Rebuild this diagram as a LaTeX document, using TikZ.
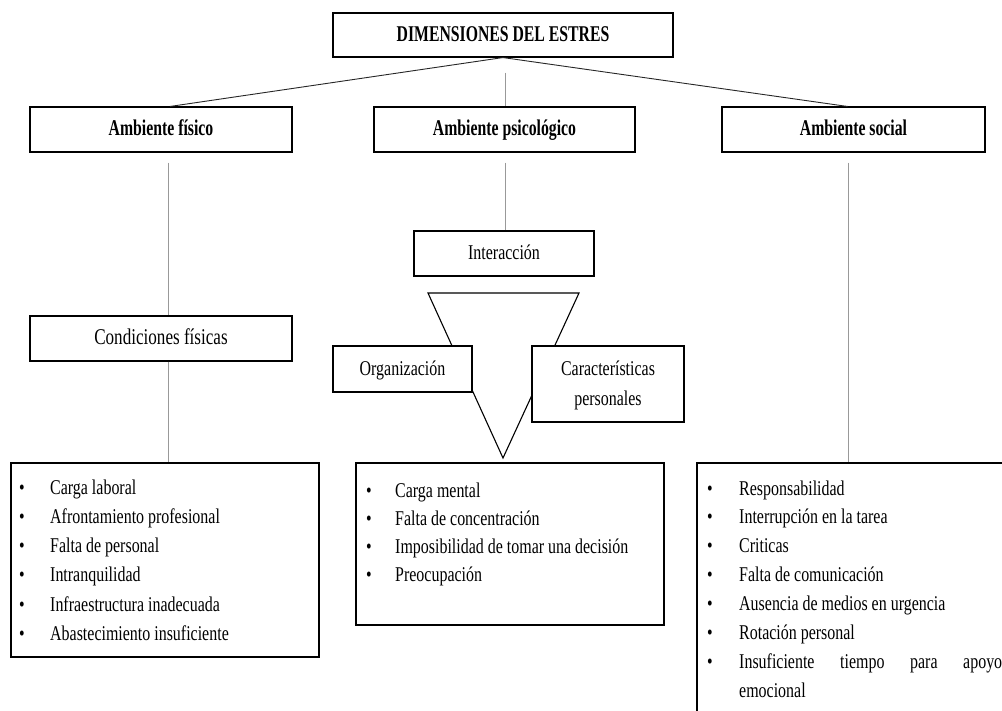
\documentclass[tikz,border=0pt]{standalone}
\usepackage{fontspec}
\setmainfont{Liberation Serif}[FakeStretch=0.76]
\newfontfamily\hdfont{Liberation Serif}[FakeStretch=0.70]
\usetikzlibrary{calc}
\begin{document}
\begin{tikzpicture}[x=1pt,y=-1pt,
  box/.style={draw, line width=1.1pt, fill=white, inner sep=0pt, align=center},
  hd/.style={font=\hdfont\bfseries\fontsize{22.5}{26}\selectfont, text height=16pt, text depth=4pt},
  bd/.style={font=\fontsize{21}{30}\selectfont},
  ctr/.style={text height=15.5pt, text depth=3.5pt},
  conn/.style={draw=black!85, line width=0.9pt},
  gconn/.style={draw=black!40, line width=1pt},
  item/.style={bd, anchor=base west, inner sep=0pt},
  bul/.style={bd, anchor=base, inner sep=0pt}]
\useasboundingbox (0,0) rectangle (1002,710);
\clip (0,0) rectangle (1002,710);

% top level
\node[box, hd, minimum width=340pt, minimum height=44pt] (top) at (503,35) {DIMENSIONES DEL ESTRES};
\node[box, hd, minimum width=262pt, minimum height=45pt] (fis) at (161,129.5) {Ambiente f\'isico};
\node[box, hd, minimum width=261pt, minimum height=45pt] (psi) at (504.5,129.5) {Ambiente psicológico};
\node[box, hd, minimum width=263pt, minimum height=45pt] (soc) at (853.5,129.5) {Ambiente social};

\draw[conn] (top.south) -- ([xshift=9pt]fis.north);
\draw[conn] (top.south) -- ([xshift=-6pt]soc.north);
\draw[gconn] ([xshift=2pt,yshift=-15pt]top.south) -- ([xshift=0.5pt]psi.north);

% physical
\node[box, ctr, font=\fontsize{22.5}{30}\selectfont, minimum width=262pt, minimum height=45pt] (cond) at (161,338.5) {Condiciones f\'isicas};
\node[box, minimum width=308pt, minimum height=194pt] (listL) at (165,560) {};
\draw[gconn] ([xshift=7pt,yshift=-10pt]fis.south) -- ([xshift=7pt]cond.north);
\draw[gconn] ([xshift=7pt]cond.south) -- ([xshift=3pt]listL.north);

\foreach \t [count=\i from 0] in {Carga laboral, Afrontamiento profesional, Falta de personal, Intranquilidad, Infraestructura inadecuada, Abastecimiento insuficiente}{
  \node[bul] (lb\i) at (22,494+29.3*\i) {•};
  \node[item] (lt\i) at (50,494+29.3*\i) {\t};
}

% psychological
\node[box, bd, ctr, minimum width=180pt, minimum height=45pt] (inter) at (504,253.5) {Interacción};
\draw[gconn] ([xshift=0.5pt,yshift=-10pt]psi.south) -- ([xshift=1pt]inter.north);
\coordinate (tA) at (428,293);
\coordinate (tB) at (579,293);
\coordinate (tC) at (503,458);
\draw[line width=1.1pt] (tA) -- (tB) -- (tC) -- cycle;
\node[box, bd, ctr, minimum width=139pt, minimum height=46pt] (org) at (402.5,369) {Organización};
\node[box, bd, minimum width=152pt, minimum height=76pt, text depth=2pt] (car) at (608,384) {Características\\personales};

\node[box, minimum width=308pt, minimum height=162pt] (listM) at (510,544) {};
\foreach \t [count=\i from 0] in {Carga mental, Falta de concentración, Imposibilidad de tomar una decisión, Preocupación}{
  \node[bul] (mb\i) at (369,497+28.3*\i) {•};
  \node[item] (mt\i) at (395,497+28.3*\i) {\t};
}

% social
\node[box, minimum width=323pt, minimum height=267pt] (listR) at (858.5,596.5) {};
\draw[gconn] ([xshift=-5.5pt,yshift=-10pt]soc.south) -- (listR.north -| {$(soc.south)+(-5.5,0)$});
\foreach \t [count=\i from 0] in {Responsabilidad, Interrupción en la tarea, Criticas, Falta de comunicación, Ausencia de medios en urgencia, Rotación personal}{
  \node[bul] (rb\i) at (710,495+28.9*\i) {•};
  \node[item] (rt\i) at (739,495+28.9*\i) {\t};
}
\node[bul] (rb6) at (710,495+28.9*6) {•};
\node[item] (rt6) at (739,495+28.9*6) {\makebox[263pt][s]{Insuficiente\hfill tiempo\hfill para\hfill apoyo}};
\node[item] (rt7) at (739,495+28.9*7) {emocional};
\end{tikzpicture}
\end{document}
